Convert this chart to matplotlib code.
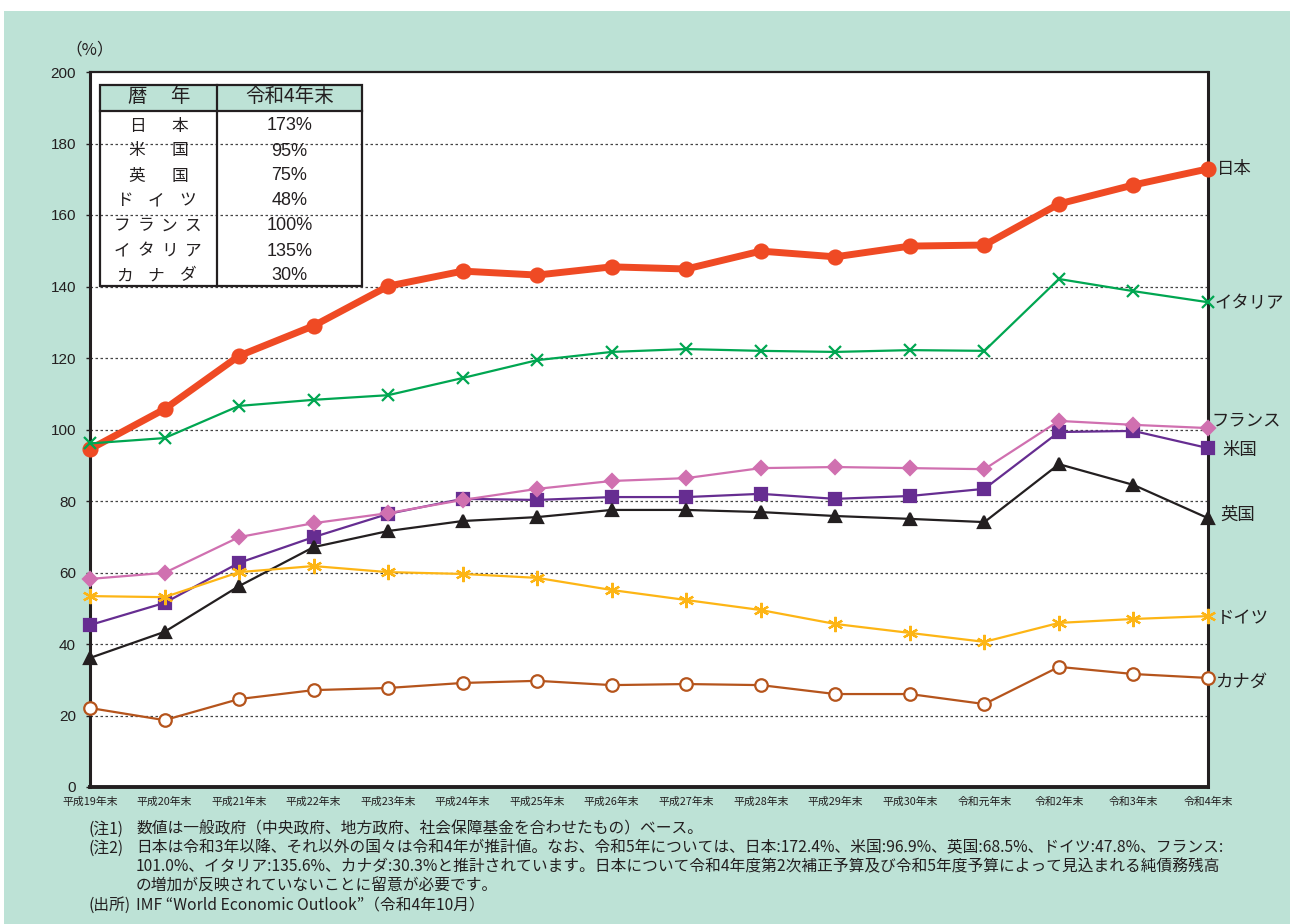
import numpy as np
import matplotlib
matplotlib.use('Agg')
import matplotlib.pyplot as plt
from matplotlib.patches import Rectangle
from matplotlib.lines import Line2D

plt.rcParams['font.family'] = ['Noto Sans CJK JP', 'DejaVu Sans']

# 債務残高の国際比較（一般政府、対GDP比、%）
years = ['平成19年末', '平成20年末', '平成21年末', '平成22年末', '平成23年末', '平成24年末',
         '平成25年末', '平成26年末', '平成27年末', '平成28年末', '平成29年末', '平成30年末',
         '令和元年末', '令和2年末', '令和3年末', '令和4年末']

japan = [94.5, 105.7, 120.6, 129.0, 140.1, 144.3, 143.2, 145.5, 144.9, 149.9, 148.3, 151.3, 151.6, 163.1, 168.4, 172.9]
italy = [96.1, 97.6, 106.6, 108.3, 109.6, 114.4, 119.4, 121.7, 122.5, 122.0, 121.7, 122.2, 122.0, 142.1, 138.7, 135.6]
france = [58.2, 59.9, 69.9, 73.8, 76.6, 80.3, 83.4, 85.6, 86.4, 89.2, 89.5, 89.2, 88.9, 102.4, 101.3, 100.4]
usa = [45.3, 51.5, 62.7, 69.9, 76.4, 80.6, 80.3, 81.1, 81.1, 82.0, 80.6, 81.4, 83.4, 99.3, 99.6, 94.8]
uk = [36.1, 43.4, 56.2, 67.1, 71.6, 74.4, 75.5, 77.5, 77.5, 76.9, 75.8, 75.0, 74.1, 90.3, 84.5, 75.2]
germany = [53.4, 53.1, 60.1, 61.8, 60.1, 59.6, 58.5, 55.1, 52.3, 49.5, 45.6, 43.1, 40.6, 45.9, 47.0, 47.8]
canada = [22.1, 18.7, 24.6, 27.1, 27.7, 29.1, 29.7, 28.5, 28.8, 28.5, 26.0, 26.0, 23.2, 33.6, 31.6, 30.5]

table_names = ['日本', '米国', '英国', 'ドイツ', 'フランス', 'イタリア', 'カナダ']
table_values = ['173%', '95%', '75%', '48%', '100%', '135%', '30%']

notes = [
    ('(注1)', '数値は一般政府（中央政府、地方政府、社会保障基金を合わせたもの）ベース。'),
    ('(注2)', '日本は令和3年以降、それ以外の国々は令和4年が推計値。なお、令和5年については、日本:172.4%、米国:96.9%、英国:68.5%、ドイツ:47.8%、フランス:'),
    ('', '101.0%、イタリア:135.6%、カナダ:30.3%と推計されています。日本について令和4年度第2次補正予算及び令和5年度予算によって見込まれる純債務残高'),
    ('', 'の増加が反映されていないことに留意が必要です。'),
    ('(出所)', 'IMF “World Economic Outlook”（令和4年10月）'),
]

W, H = 1290, 924
MINT = '#bde2d6'
INK = '#231f20'


def px(x, y):
    # pixel position (from top-left) -> figure fraction
    return x / W, 1 - y / H


fig = plt.figure(figsize=(W / 100, H / 100), dpi=100)
fig.patch.set_facecolor('white')
fig.patches.append(Rectangle((4 / W, 0), 1, 1 - 11 / H, transform=fig.transFigure,
                             facecolor=MINT, edgecolor='none', zorder=-10))

ax = fig.add_axes([90 / W, 1 - 787 / H, (1208 - 90) / W, (787 - 72) / H])
ax.set_facecolor('white')
x = np.arange(len(years))

# series: (values, label, color, linewidth, marker, markersize, facecolor, label offset px)
series = [
    (japan, '日本', '#ef4a24', 5.0, 'o', 10, None, (9, 0)),
    (usa, '米国', '#662d91', 1.6, 's', 9, None, (14, 2)),
    (france, 'フランス', '#d070b0', 1.6, 'D', 7.5, None, (3, -8)),
    (uk, '英国', '#231f20', 1.6, '^', 9, None, (12, -3)),
    (germany, 'ドイツ', '#fdb515', 1.6, (6, 2, 0), 11, None, (9, 2)),
    (italy, 'イタリア', '#00a651', 1.6, 'x', 9, None, (7, 1)),
    (canada, 'カナダ', '#b5541c', 1.6, 'o', 9, 'white', (7, 4)),
]

for i, (vals, name, col, lw, mk, ms, fc, off) in enumerate(series):
    ax.plot(x, vals, color=col, lw=lw, marker=mk, ms=ms,
            mfc=fc if fc else col, mec=col, mew=1.6, clip_on=False, zorder=3 + i)
    ax.annotate(name, xy=(x[-1], vals[-1]), xytext=(off[0] * 0.72, -off[1] * 0.72),
                textcoords='offset points', ha='left', va='center', fontsize=12.5,
                color=INK, annotation_clip=False)

ax.set_xlim(0, len(years) - 1)
ax.set_ylim(0, 200)
ax.set_yticks(np.arange(0, 201, 20))
ax.set_xticks(x)
ax.set_xticklabels(years, fontsize=7.8)
ax.tick_params(axis='x', length=0, pad=7, colors=INK)
ax.tick_params(axis='y', length=3, width=1, direction='out', pad=7, colors=INK,
               labelsize=11, labelfontfamily='Liberation Sans')

for yv in range(20, 200, 20):
    ax.axhline(yv, color='#444444', lw=0.9, ls=(0, (2, 2)), zorder=1)

for side in ['left', 'right', 'bottom', 'top']:
    ax.spines[side].set_color(INK)
ax.spines['left'].set_linewidth(2.2)
ax.spines['bottom'].set_linewidth(2.8)
ax.spines['right'].set_linewidth(2.2)
ax.spines['top'].set_linewidth(1.6)

fig.text(*px(90, 50), '（%）', fontsize=12, ha='center', va='center', color=INK)

# summary table in the upper-left corner
tl, tr, tmid = 100, 362, 217
ttop, thead, tbot = 85, 111, 286
fig.patches.append(Rectangle(px(tl, thead), (tr - tl) / W, (thead - ttop) / H,
                             transform=fig.transFigure, facecolor=MINT, edgecolor='none', zorder=5))
fig.patches.append(Rectangle(px(tl, tbot), (tr - tl) / W, (tbot - ttop) / H,
                             transform=fig.transFigure, facecolor='none', edgecolor=INK,
                             lw=1.6, zorder=6))
fig.lines.append(Line2D([tl / W, tr / W], [1 - thead / H] * 2, transform=fig.transFigure,
                        color=INK, lw=1.6, zorder=6))
fig.lines.append(Line2D([tmid / W] * 2, [1 - ttop / H, 1 - tbot / H], transform=fig.transFigure,
                        color=INK, lw=1.6, zorder=6))

spans = {2: (137, 180), 3: (124, 188), 4: (122, 193)}


def spaced(word, yc, size):
    a, b = spans[len(word)]
    for k, ch in enumerate(word):
        xc = a + (b - a) * k / (len(word) - 1)
        fig.text(*px(xc, yc), ch, fontsize=size, ha='center', va='center', color=INK, zorder=7)


spaced('暦年', 97, 14)
fig.text(*px(289.5, 97), '令和4年末', fontsize=14, ha='center', va='center', color=INK, zorder=7)
for r, (nm, v) in enumerate(zip(table_names, table_values)):
    yc = 126 + 25 * r
    spaced(nm, yc, 12)
    fig.text(*px(289.5, yc), v, fontsize=13, ha='center', va='center', color=INK, zorder=7,
             family='Liberation Sans')

for r, (head, body) in enumerate(notes):
    yc = 829 + 19 * r
    if head:
        fig.text(*px(88, yc), head, fontsize=11.3, ha='left', va='center', color=INK)
    fig.text(*px(136, yc), body, fontsize=11.3, ha='left', va='center', color=INK)

fig.savefig('out.png', dpi=100)
